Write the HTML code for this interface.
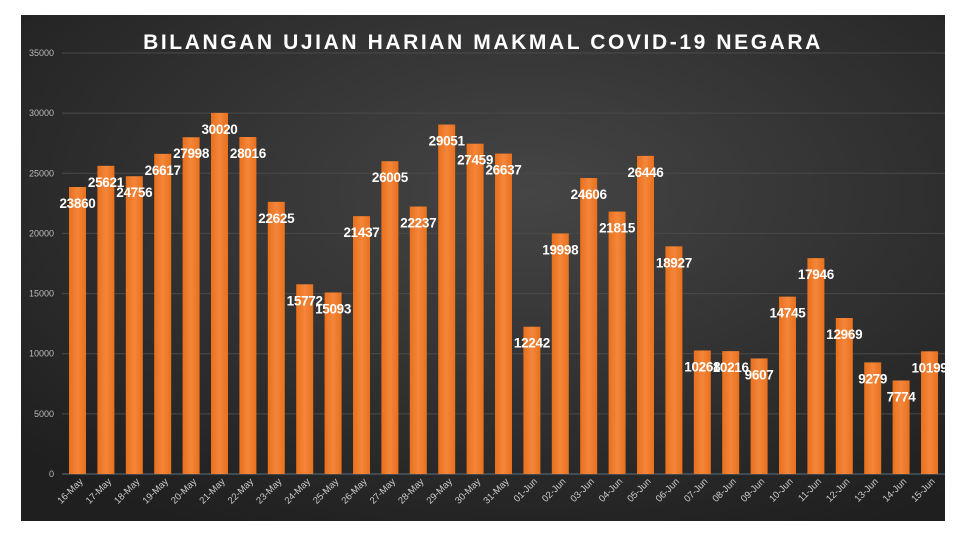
<!DOCTYPE html>
<html><head><meta charset="utf-8"><style>
body{margin:0;background:#fff;width:960px;height:539px;overflow:hidden}
svg{display:block}
text{font-family:"Liberation Sans",sans-serif}
</style></head><body>
<svg id="c" width="960" height="539">
<defs>
<radialGradient id="bg" cx="0.55" cy="0.35" r="0.75">
<stop offset="0" stop-color="#454545"/><stop offset="1" stop-color="#1f1f1f"/>
</radialGradient>
<linearGradient id="bar" x1="0" y1="0" x2="1" y2="0">
<stop offset="0" stop-color="#e8701c"/><stop offset="0.5" stop-color="#f4863a"/><stop offset="1" stop-color="#e8701c"/>
</linearGradient>
</defs>
<rect x="21" y="15" width="924" height="506" fill="url(#bg)"/>
<text x="483" y="49" fill="#fff" font-size="21" font-weight="bold" text-anchor="middle" letter-spacing="2.6">BILANGAN  UJIAN  HARIAN  MAKMAL  COVID-19  NEGARA</text>
<g id="grid"></g><g id="bars"></g><g id="labels"></g><g id="xl"></g>
</svg>
<script>
const categories=["16-May","17-May","18-May","19-May","20-May","21-May","22-May","23-May","24-May","25-May","26-May","27-May","28-May","29-May","30-May","31-May","01-Jun","02-Jun","03-Jun","04-Jun","05-Jun","06-Jun","07-Jun","08-Jun","09-Jun","10-Jun","11-Jun","12-Jun","13-Jun","14-Jun","15-Jun"];
const values=[23860,25621,24756,26617,27998,30020,28016,22625,15772,15093,21437,26005,22237,29051,27459,26637,12242,19998,24606,21815,26446,18927,10268,10216,9607,14745,17946,12969,9279,7774,10199];
const yTicks=[0,5000,10000,15000,20000,25000,30000,35000];
const NS="http://www.w3.org/2000/svg";
const y0=474,y1=53,yMax=35000,xStart=77.5,xStep=28.4,bw=17;
const yS=v=>y0-(v/yMax)*(y0-y1);
const xS=i=>xStart+i*xStep;
function mk(t,a,p){const e=document.createElementNS(NS,t);for(const k in a)e.setAttribute(k,a[k]);p.appendChild(e);return e;}
const g=document.getElementById('grid');
yTicks.forEach(t=>{
 const l=mk('line',{x1:62,x2:945,y1:yS(t),y2:yS(t),stroke:t===0?'#5a6f80':'#4a4a4a','stroke-width':1},g);
 
 
 const tx=mk('text',{x:54,y:yS(t)+3,fill:'#bbb','font-size':9,'text-anchor':'end'},g);
 tx.textContent=t;
 
 
});
const b=document.getElementById('bars'),lb=document.getElementById('labels'),xl=document.getElementById('xl');
values.forEach((v,i)=>{
 const r=mk('rect',{x:xS(i)-bw/2,y:yS(v),width:bw,height:y0-yS(v),fill:'url(#bar)'},b);
 
 
 const t=mk('text',{x:xS(i),y:yS(v)+21,fill:'#fff','font-size':13.5,'font-weight':'bold','text-anchor':'middle','letter-spacing':'-0.3'},lb);
 t.textContent=v;
 
 
 const x=xS(i)+6,yy=482;
 const c=mk('text',{x:x,y:yy,fill:'#ccc','font-size':9.5,'text-anchor':'end',transform:`rotate(-45 ${x} ${yy})`},xl);
 c.textContent=categories[i];
 
 
});
</script>
</body></html>
